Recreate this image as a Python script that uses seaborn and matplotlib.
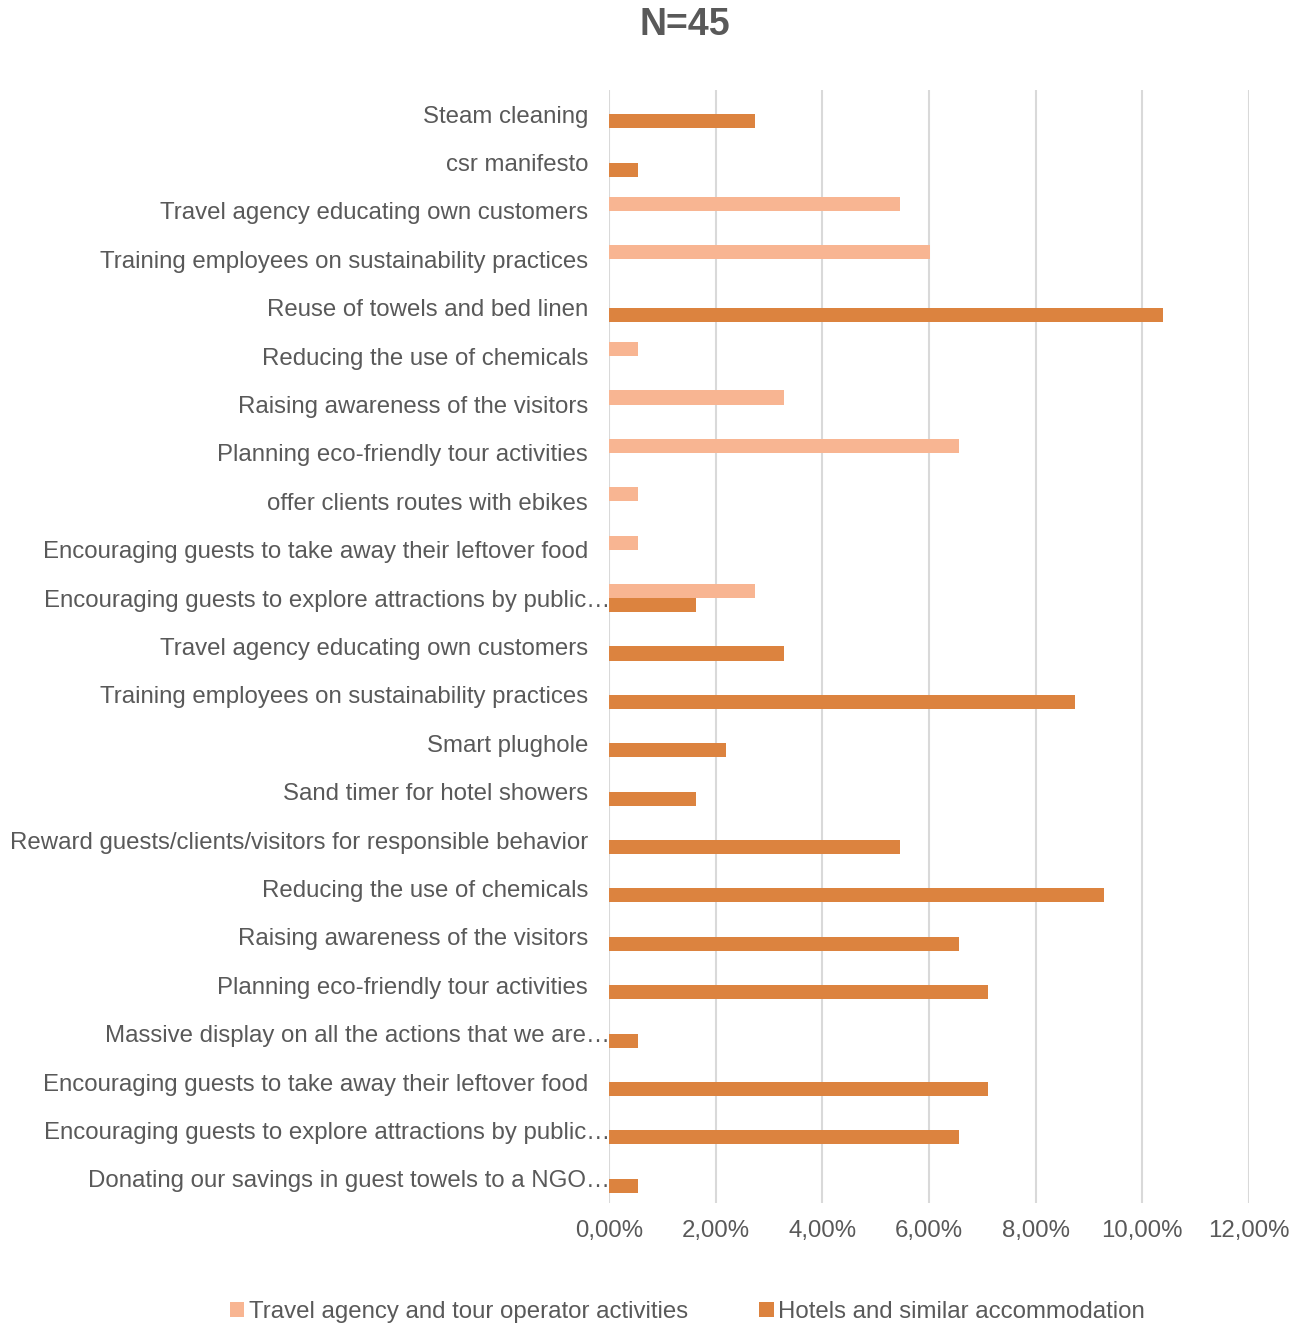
import matplotlib
matplotlib.use("Agg")
import matplotlib.pyplot as plt
import matplotlib.transforms as mtransforms
from matplotlib.patches import Patch
import seaborn as sns
import pandas as pd

# Measures, listed top to bottom
categories = [
    "Steam cleaning",
    "csr manifesto",
    "Travel agency educating own customers",
    "Training employees on sustainability practices",
    "Reuse of towels and bed linen",
    "Reducing the use of chemicals",
    "Raising awareness of the visitors",
    "Planning eco-friendly tour activities",
    "offer clients routes with ebikes",
    "Encouraging guests to take away their leftover food",
    "Encouraging guests to explore attractions by public…",
    "Travel agency educating own customers",
    "Training employees on sustainability practices",
    "Smart plughole",
    "Sand timer for hotel showers",
    "Reward guests/clients/visitors for responsible behavior",
    "Reducing the use of chemicals",
    "Raising awareness of the visitors",
    "Planning eco-friendly tour activities",
    "Massive display on all the actions that we are…",
    "Encouraging guests to take away their leftover food",
    "Encouraging guests to explore attractions by public…",
    "Donating our savings in guest towels to a NGO…",
]

# Share of answers (%) per sector
travel_agency = [0, 0, 5.46, 6.01, 0, 0.55, 3.28, 6.56, 0.55, 0.55, 2.73,
                 0, 0, 0, 0, 0, 0, 0, 0, 0, 0, 0, 0]
hotels = [2.73, 0.55, 0, 0, 10.38, 0, 0, 0, 0, 0, 1.64,
          3.28, 8.74, 2.19, 1.64, 5.46, 9.29, 6.56, 7.10, 0.55, 7.10, 6.56, 0.55]

series_names = ["Travel agency and tour operator activities",
                "Hotels and similar accommodation"]
x_ticks = [0, 2, 4, 6, 8, 10, 12]
title = "N=45"

light = "#F8B592"
dark = "#DC833F"
text_col = "#595959"
grid_col = "#D9D9D9"
fs = 17.3

rows = []
for i in range(len(categories)):
    rows.append({"row": i, "sector": series_names[0], "value": travel_agency[i]})
    rows.append({"row": i, "sector": series_names[1], "value": hotels[i]})
df = pd.DataFrame(rows)

sns.set_theme(style="white")
plt.rcParams["font.family"] = ["Liberation Sans", "DejaVu Sans"]

fig = plt.figure(figsize=(12.99, 13.23), dpi=100)
ax = fig.add_axes([0.4688, 0.0907, 0.4927, 0.8413])

sns.barplot(data=df, x="value", y="row", hue="sector", orient="h",
            hue_order=series_names, palette=[light, dark], saturation=1,
            width=0.58, dodge=True, linewidth=0, ax=ax, legend=False)

ax.set_xlim(0, 12)
ax.set_ylim(len(categories) - 0.5, -0.5)
ax.set_xticks(x_ticks)
ax.set_xticklabels([f"{v:.2f}%".replace(".", ",") for v in x_ticks],
                   fontsize=fs, color=text_col)
ax.set_yticks(range(len(categories)))
ax.set_yticklabels(categories, fontsize=fs, color=text_col)
ax.tick_params(axis="y", length=0, pad=15)
ax.tick_params(axis="x", length=0, pad=12)
ax.set_xlabel("")
ax.set_ylabel("")

# Truncated labels run up to the axis
shift = mtransforms.ScaledTranslation(22 / 100, 0, fig.dpi_scale_trans)
for lab in ax.get_yticklabels():
    if lab.get_text().endswith("…"):
        lab.set_transform(lab.get_transform() + shift)

ax.xaxis.grid(True, color=grid_col, linewidth=1.5)
ax.set_axisbelow(True)
for s in ax.spines.values():
    s.set_visible(False)

fig.text(0.527, 0.981, title, ha="center", va="center", fontsize=27,
         fontweight="bold", color=text_col)

handles = [Patch(facecolor=light, edgecolor="none"),
           Patch(facecolor=dark, edgecolor="none")]
fig.legend(handles, series_names, loc="center", bbox_to_anchor=(0.5293, 0.0085),
           ncol=2, frameon=False, fontsize=fs, labelcolor=text_col,
           handlelength=0.6, handleheight=0.6, handletextpad=0.2,
           columnspacing=2.95)

fig.savefig("out.png", dpi=100, facecolor="white")
